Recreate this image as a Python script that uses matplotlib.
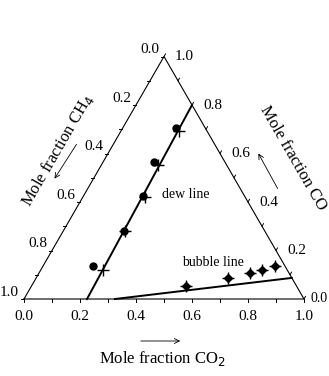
import numpy as np
import matplotlib
matplotlib.use('Agg')
import matplotlib.pyplot as plt

plt.rcParams['font.family'] = ['Liberation Serif', 'DejaVu Serif']

# ternary data: (CO2, CO) pairs, CH4 = 1 - CO2 - CO
dew_circ_co2 = [0.190, 0.182, 0.213, 0.217, 0.178]
dew_circ_co = [0.705, 0.565, 0.425, 0.280, 0.136]
dew_plus_co2 = [0.207, 0.202, 0.222, 0.221, 0.222]
dew_plus_co = [0.693, 0.553, 0.421, 0.280, 0.120]
bub_co2 = [0.552, 0.685, 0.753, 0.790, 0.828]
bub_co = [0.054, 0.087, 0.107, 0.120, 0.136]
dew_line_co2 = [0.225, 0.200]
dew_line_co = [0.0, 0.800]
bub_line_co2 = [0.325, 0.913]
bub_line_co = [0.0, 0.087]
ticks = [0.0, 0.2, 0.4, 0.6, 0.8, 1.0]

S3 = np.sqrt(3) / 2
PX = 280.0  # pixels per unit side


def tern(co2, co):
    co2 = np.asarray(co2, float)
    co = np.asarray(co, float)
    return co2 + co / 2, co * S3


fig = plt.figure(figsize=(3.29, 3.76), dpi=100)
ax = fig.add_axes([0, 0, 1, 1])
ax.set_xlim(-24 / PX, (329 - 24) / PX)
ax.set_ylim(-(376 - 299) / PX, 299 / PX)
ax.axis('off')

# triangle frame
ax.plot([0, 1, 0.5, 0], [0, 0, S3, 0], color='black', lw=0.8)

# small ticks every 0.1
tl = 3 / PX
for v in np.arange(0, 1.01, 0.1):
    # bottom (CO2)
    x, y = tern(v, 0)
    ax.plot([x, x], [y, y - tl], color='black', lw=0.7)
    # left (CH4), CO2=0, CO=1-v
    x, y = tern(0, 1 - v)
    ax.plot([x, x - tl], [y, y], color='black', lw=0.7)
    # right (CO), CH4=0
    x, y = tern(1 - v, v)
    ax.plot([x, x + tl * 0.5], [y, y + tl * S3], color='black', lw=0.7)

fs = 11
for v in ticks:
    x, y = tern(v, 0)
    ax.text(x, y - 18 / PX, '%.1f' % v, ha='center', va='center', fontsize=fs)
    x, y = tern(0, 1 - v)
    ax.text(x - 5 / PX, y + 7 / PX, '%.1f' % v, ha='right', va='center', fontsize=fs)
    x, y = tern(1 - v, v)
    if v == 0.0:
        ax.text(x + 6 / PX, y, '%.1f' % v, ha='left', va='center', fontsize=10)
    else:
        ax.text(x + 11 / PX, y, '%.1f' % v, ha='left', va='center', fontsize=fs)

# phase lines
x, y = tern(dew_line_co2, dew_line_co)
ax.plot(x, y, color='black', lw=1.4)
x, y = tern(bub_line_co2, bub_line_co)
ax.plot(x, y, color='black', lw=1.4)

# data points
x, y = tern(dew_circ_co2, dew_circ_co)
ax.plot(x, y, 'o', color='black', ms=5, ls='none')
x, y = tern(dew_plus_co2, dew_plus_co)
ax.plot(x, y, '+', color='black', ms=9, mew=1.0, ls='none')
x, y = tern(bub_co2, bub_co)
ax.plot(x, y, 'D', color='black', ms=4.5, ls='none')
ax.plot(x, y, '+', color='black', ms=9, mew=1.0, ls='none')


def px(p, q):
    return ((p - 24) / PX, (299 - q) / PX)


ax.text(*px(162, 194), 'dew line', ha='left', va='center', fontsize=10)
ax.text(*px(182, 262), 'bubble line', ha='left', va='center', fontsize=10)

arr = dict(arrowstyle='->', color='black', lw=0.6, mutation_scale=9)
ax.annotate('', xy=px(53, 181), xytext=px(78, 142), arrowprops=arr)
ax.annotate('', xy=px(257, 151), xytext=px(279, 191), arrowprops=arr)
ax.annotate('', xy=px(183, 341), xytext=px(138, 341), arrowprops=arr)

ax.text(*px(58, 150), 'Mole fraction CH$_4$', rotation=60, ha='center', va='center',
        fontsize=12, rotation_mode='anchor')
ax.text(*px(293, 158), 'Mole fraction CO', rotation=-60, ha='center', va='center',
        fontsize=12, rotation_mode='anchor')
ax.text(*px(162, 358), 'Mole fraction CO$_2$', ha='center', va='center', fontsize=12)

fig.savefig('out.png', dpi=100)
